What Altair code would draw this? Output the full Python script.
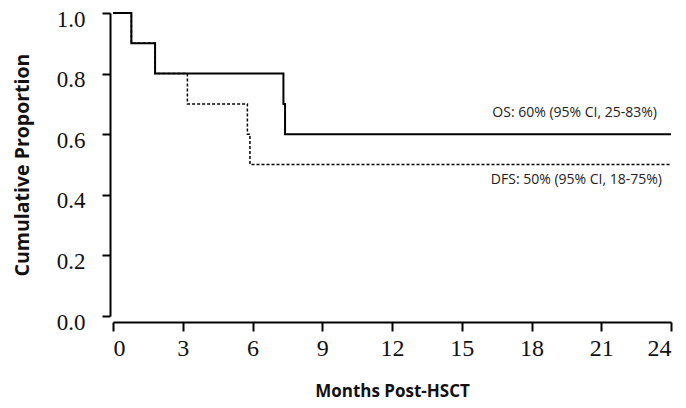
import altair as alt
import pandas as pd

os_time = [0, 0.79, 1.81, 7.33, 7.4, 24]
os_surv = [1.0, 0.9, 0.8, 0.7, 0.6, 0.6]
dfs_time = [0, 0.79, 1.81, 3.2, 5.78, 5.89, 24]
dfs_surv = [1.0, 0.9, 0.8, 0.7, 0.6, 0.5, 0.5]

labels = ["OS: 60% (95% CI, 25-83%)", "DFS: 50% (95% CI, 18-75%)"]
label_y = [0.670, 0.449]
label_x = [24, 24]

x_ticks = [0, 3, 6, 9, 12, 15, 18, 21, 24]
y_ticks = [0.0, 0.2, 0.4, 0.6, 0.8, 1.0]

os_df = pd.DataFrame({"t": os_time, "s": os_surv})
dfs_df = pd.DataFrame({"t": dfs_time, "s": dfs_surv})
lab_df = pd.DataFrame({"t": label_x, "s": label_y, "label": labels})

xscale = alt.Scale(domain=[0, 24], nice=False, zero=False)
yscale = alt.Scale(domain=[0, 1], nice=False)

xaxis = alt.Axis(values=x_ticks, title="Months Post-HSCT", format="d",
                 offset=6, tickSize=9, labelPadding=5, titlePadding=23,
                 titleFontSize=17)
yaxis = alt.Axis(values=y_ticks, title="Cumulative Proportion", format=".1f",
                 offset=3, tickSize=8, labelPadding=17, labelOffset=6,
                 labelFontSize=23, titlePadding=24, titleFontSize=19.5)

dfs = alt.Chart(dfs_df).mark_line(
    interpolate="step-after", color="black", strokeWidth=1.5, strokeDash=[3, 2]
).encode(
    x=alt.X("t:Q", scale=xscale, axis=xaxis),
    y=alt.Y("s:Q", scale=yscale, axis=yaxis),
)

os_line = alt.Chart(os_df).mark_line(
    interpolate="step-after", color="black", strokeWidth=2
).encode(
    x=alt.X("t:Q", scale=xscale),
    y=alt.Y("s:Q", scale=yscale),
)

text_os = alt.Chart(lab_df.iloc[[0]]).mark_text(
    align="right", baseline="middle", font="Open Sans", fontSize=14, color="#222", dx=-14
).encode(
    x=alt.X("t:Q", scale=xscale),
    y=alt.Y("s:Q", scale=yscale),
    text="label:N",
)
text_dfs = alt.Chart(lab_df.iloc[[1]]).mark_text(
    align="right", baseline="middle", font="Open Sans", fontSize=14, color="#222", dx=-9
).encode(
    x=alt.X("t:Q", scale=xscale),
    y=alt.Y("s:Q", scale=yscale),
    text="label:N",
)

chart = alt.layer(dfs, os_line, text_os, text_dfs).properties(
    width=558,
    height=303,
    autosize=alt.AutoSizeParams(type="none"),
    padding={"left": 105, "top": 5, "right": 7, "bottom": 84},
).configure_view(stroke=None).configure_axis(
    grid=False,
    domainColor="black",
    domainWidth=2,
    tickColor="black",
    tickWidth=2,
    labelFont="Liberation Serif",
    labelFontSize=24,
    labelColor="#111",
    titleFont="Open Sans",
    titleFontWeight="bold",
    titleColor="#111",
)

chart.save("out.html", embed_options={"renderer": "svg", "actions": False})
